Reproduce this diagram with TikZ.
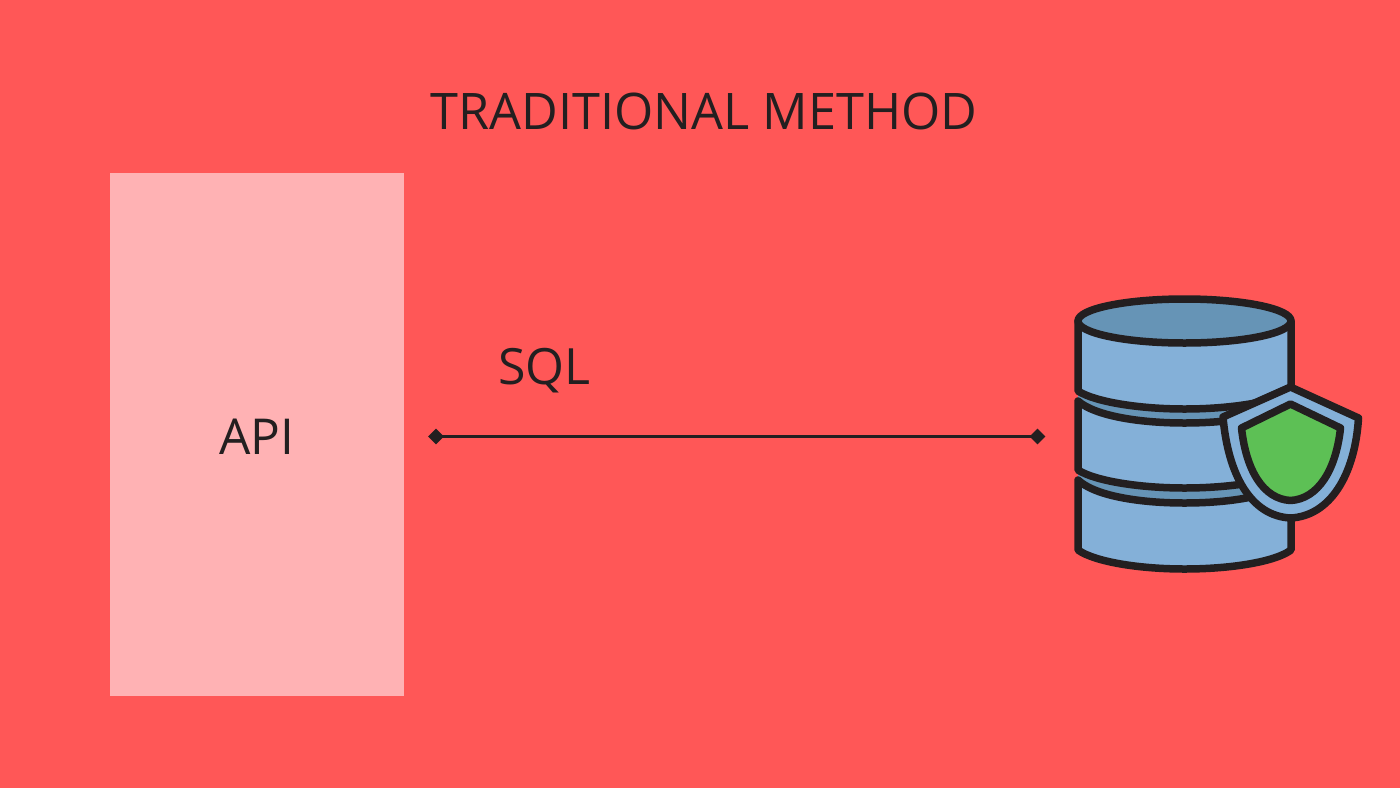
\documentclass[tikz,border=0pt]{standalone}
\usepackage{fontspec}
\setmainfont{Open Sans}
\usetikzlibrary{shapes.geometric}
\definecolor{bgred}{HTML}{FF5757}
\definecolor{apipink}{HTML}{FFB2B4}
\definecolor{ink}{HTML}{231F20}
\definecolor{dbblue}{HTML}{84B0D8}
\definecolor{dbdark}{HTML}{6694B6}
\definecolor{shgreen}{HTML}{5DC055}
\tikzset{
  label text/.style={text=ink,inner sep=0pt,anchor=base},
  tip/.style={diamond,fill=ink,inner sep=0pt,minimum width=16pt,minimum height=16pt},
  dbline/.style={draw=ink,line width=7.5pt,line join=round,line cap=round},
}
\begin{document}
\begin{tikzpicture}[x=1pt,y=-1pt]
\useasboundingbox (0,0) rectangle (1400,788);
\fill[bgred] (0,0) rectangle (1400,788);
\node[label text,font=\fontsize{50.4}{50}\selectfont] (title) at (704,129) {TRADITIONAL METHOD};
\node[fill=apipink,minimum width=294pt,minimum height=523pt,inner sep=0pt] (api) at (257,434.5) {};
\node[label text,font=\fontsize{49.5}{50}\selectfont] (apit) at (256.5,454) {API};
\node[label text,font=\fontsize{50}{50}\selectfont] (sql) at (544.5,384) {SQL};
\node[tip] (a) at (436,436.5) {};
\node[tip] (b) at (1037.5,436.5) {};
\draw[ink,line width=3pt] (a.center) -- (b.center);
% database: bottom drum
\fill[dbdark] (1078,470) rectangle (1291,510);
\filldraw[dbline,fill=dbblue] (1078,480) -- (1078,550) .. controls (1095,562) and (1140,569) .. (1184.5,569) .. controls (1230,569) and (1275,562) .. (1291,550) -- (1291,480) .. controls (1275,496) and (1230,503) .. (1184.5,503) .. controls (1140,503) and (1095,496) .. (1078,480) -- cycle;
% middle drum
\fill[dbdark] (1078,390) rectangle (1291,430);
\filldraw[dbline,fill=dbblue] (1078,401) -- (1078,470) .. controls (1095,481) and (1140,488) .. (1184.5,488) .. controls (1230,488) and (1275,481) .. (1291,470) -- (1291,401) .. controls (1275,416) and (1230,423) .. (1184.5,423) .. controls (1140,423) and (1095,416) .. (1078,401) -- cycle;
% top drum
\filldraw[dbline,fill=dbblue] (1078,321) -- (1078,391) .. controls (1095,402) and (1140,409) .. (1184.5,409) .. controls (1230,409) and (1275,402) .. (1291,391) -- (1291,321) -- cycle;
\filldraw[dbline,fill=dbdark] (1184.5,321) ellipse [x radius=106.5,y radius=22];
% shield
\filldraw[dbline,fill=dbblue] (1290.5,387) -- (1358.5,418) .. controls (1355,475) and (1330,516) .. (1290.5,518) .. controls (1251,516) and (1228,475) .. (1223,417) -- cycle;
\filldraw[dbline,fill=shgreen] (1290.5,404) -- (1340.5,428) .. controls (1336,470) and (1318,499) .. (1290.5,500.5) .. controls (1263,499) and (1246,470) .. (1241.5,428) -- cycle;
\end{tikzpicture}
\end{document}
